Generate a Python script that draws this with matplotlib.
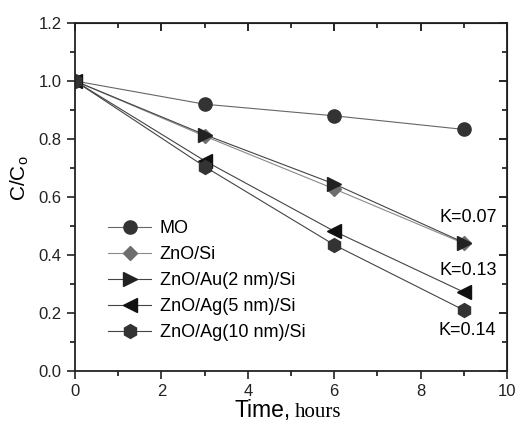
import matplotlib
matplotlib.use('Agg')
import matplotlib.pyplot as plt
from matplotlib.ticker import MultipleLocator

plt.rcParams['font.family'] = ['Liberation Sans', 'DejaVu Sans']

# 数据：时间(小时) 和 各样品的 C/Co
time_h = [0, 3, 6, 9]
mo = [1.0, 0.92, 0.88, 0.833]
zno_si = [1.0, 0.81, 0.628, 0.44]
zno_au2 = [1.0, 0.815, 0.645, 0.443]
zno_ag5 = [1.0, 0.725, 0.482, 0.272]
zno_ag10 = [1.0, 0.705, 0.435, 0.21]

labels = ['MO', 'ZnO/Si', 'ZnO/Au(2 nm)/Si', 'ZnO/Ag(5 nm)/Si', 'ZnO/Ag(10 nm)/Si']
k_labels = ['K=0.07', 'K=0.13', 'K=0.14']
k_pos = [(9.1, 0.528), (9.1, 0.348), (9.08, 0.141)]

fig = plt.figure(figsize=(5.17, 4.21), dpi=100)
ax = fig.add_axes([75 / 517, 1 - 371 / 421, 432 / 517, 348 / 421])

series = [mo, zno_si, zno_au2, zno_ag5, zno_ag10]
markers = ['o', 'D', '>', '<', 'h']
mcolors = ['#333333', '#6e6e6e', '#222222', '#111111', '#333333']
msizes = [9.5, 7.5, 10, 10, 10]
lcolors = ['#666666', '#8a8a8a', '#444444', '#444444', '#444444']
for y, lab, m, mc, ms, lc in zip(series, labels, markers, mcolors, msizes, lcolors):
    ax.plot(time_h, y, color=lc, linewidth=0.8, marker=m, markersize=ms,
            markerfacecolor=mc, markeredgecolor=mc, label=lab)

for txt, (x, y) in zip(k_labels, k_pos):
    ax.text(x, y, txt, fontsize=13, ha='center', va='center')

ax.set_xlim(0, 10)
ax.set_ylim(0, 1.2)
ax.xaxis.set_major_locator(MultipleLocator(2))
ax.xaxis.set_minor_locator(MultipleLocator(1))
ax.yaxis.set_major_locator(MultipleLocator(0.2))
ax.yaxis.set_minor_locator(MultipleLocator(0.1))
ax.yaxis.set_major_formatter(plt.FormatStrFormatter('%.1f'))
ax.tick_params(which='major', direction='out', length=6, width=1.2, labelsize=12,
               colors='#222222')
ax.tick_params(which='minor', direction='out', length=3.5, width=1.1)
for s in ax.spines.values():
    s.set_linewidth(1.3)
    s.set_color('#222222')

# 上和右的刻度朝里
top = ax.secondary_xaxis('top')
top.xaxis.set_major_locator(MultipleLocator(2))
top.xaxis.set_minor_locator(MultipleLocator(1))
top.tick_params(which='major', direction='in', length=6, width=1.2, labeltop=False)
top.tick_params(which='minor', direction='in', length=3.5, width=1.1)
right = ax.secondary_yaxis('right')
right.yaxis.set_major_locator(MultipleLocator(0.2))
right.yaxis.set_minor_locator(MultipleLocator(0.1))
right.tick_params(which='major', direction='in', length=6, width=1.2, labelright=False)
right.tick_params(which='minor', direction='in', length=3.5, width=1.1)

ax.legend(loc='upper left', bbox_to_anchor=(0.06, 0.455), frameon=False, fontsize=13,
          handlelength=2.4, handletextpad=0.45, labelspacing=0.5, borderaxespad=0)

fig.text(20 / 517, 1 - 178 / 421, 'C/C$_\\mathregular{o}$', fontsize=15, rotation=90,
         ha='center', va='center')
fig.text(291 / 517, 4 / 421, 'Time,', fontsize=16.5, ha='right', va='baseline')
fig.text(295 / 517, 4 / 421, 'hours', fontsize=15, ha='left', va='baseline',
         family='Liberation Serif')

fig.savefig('out.png', dpi=100)
